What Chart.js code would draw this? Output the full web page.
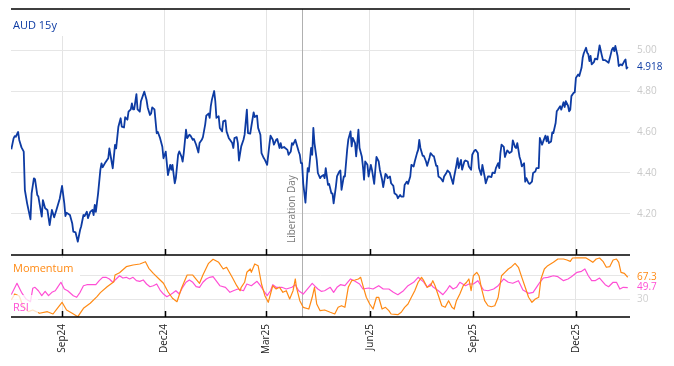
<!DOCTYPE html>
<html>
<head>
<meta charset="utf-8">
<script src="https://cdn.jsdelivr.net/npm/chart.js@4.4.1/dist/chart.umd.min.js"></script>
<style>
  html, body { margin: 0; padding: 0; background: #fff; }
  #chart { display: block; }
</style>
</head>
<body>
<canvas id="chart" width="674" height="366"></canvas>
<script>
// x values are days counted from 1 Jul 2024
const audDays = [
  17,19,20,21,23,24,26,28,29,31, 34,35,37,38,40,41,44,45,47,49,
  51,53,55,57,60,62,64,65,66,69, 71,72,74,76,78,79,81,82,84,85,
  87,89,90,91,92,94,96,97,98,100, 103,104,106,107,109,110,112,114,115,117,
  118,120,121,123,124,125,126,128,129,131, 132,135,137,138,140,141,142,144,146,147,
  149,151,152,154,156,158,159,160,162,163, 165,166,168,169,170,172,173,175,176,178,
  179,181,183,184,186,187,189,190,192,193, 194,195,197,198,199,201,202,204,205,207,
  208,210,211,213,214,215,217,218,219,221, 223,224,226,227,229,230,232,233,235,236,
  238,239,241,242,244,246,247,249,250,252, 253,255,256,257,259,260,262,263,265,266,
  267,269,270,272,273,274,275,276,278,280, 281,283,284,285,286,288,289,291,292,294,
  295,296,298,299,301,302,303,305,306,308, 309,310,312,313,315,316,318,319,320,322,
  323,325,326,328,329,330,331,333,334,336, 337,339,340,341,343,344,346,347,349,350,
  351,353,354,356,357,359,360,362,363,365, 366,368,369,371,372,374,375,377,378,379,
  380,382,383,385,386,388,389,391,392,394, 395,396,398,400,401,403,404,406,407,409,
  410,412,413,414,416,417,419,420,422,423, 425,426,428,429,431,432,434,435,437,438,
  440,441,443,444,446,447,449,450,451,452, 454,455,457,458,459,461,462,464,465,466,
  468,469,470,472,473,474,476,477,479,480, 482,483,485,486,488,489,491,492,493,494,
  496,497,498,500,501,502,504,505,507,508, 509,511,512,513,514,516,517,518,520,521,
  523,524,525,527,528,529,530,531,532,534, 535,537,538,539,541,542,544,545,547,548,
  550,551,552,553,555,556,558,559,561,562, 563,564
];
const aud = [
  4.516,4.569,4.580,4.577,4.600,4.561,4.525,4.504,4.317,4.252, 4.174,4.301,4.374,4.370,4.293,4.285,4.187,4.268,4.228,4.220,
  4.146,4.220,4.184,4.220,4.276,4.337,4.252,4.190,4.206,4.195, 4.155,4.114,4.110,4.065,4.122,4.140,4.195,4.190,4.211,4.180,
  4.210,4.220,4.195,4.244,4.210,4.301,4.415,4.447,4.428,4.447, 4.472,4.520,4.455,4.423,4.537,4.520,4.626,4.667,4.626,4.622,
  4.672,4.660,4.699,4.710,4.740,4.710,4.710,4.785,4.710,4.699, 4.750,4.797,4.756,4.720,4.683,4.690,4.720,4.710,4.594,4.600,
  4.570,4.528,4.472,4.504,4.390,4.440,4.416,4.440,4.350,4.375, 4.489,4.505,4.480,4.456,4.497,4.611,4.570,4.587,4.582,4.562,
  4.566,4.538,4.500,4.546,4.562,4.575,4.636,4.680,4.690,4.669, 4.726,4.758,4.800,4.750,4.669,4.677,4.620,4.603,4.652,4.657,
  4.603,4.570,4.562,4.546,4.522,4.570,4.575,4.546,4.461,4.530, 4.562,4.587,4.709,4.595,4.592,4.628,4.696,4.673,4.680,4.620,
  4.587,4.497,4.473,4.464,4.440,4.538,4.582,4.562,4.538,4.562, 4.566,4.522,4.546,4.522,4.527,4.522,4.513,4.489,4.505,4.546,
  4.538,4.562,4.543,4.505,4.489,4.448,4.448,4.350,4.255,4.424, 4.407,4.522,4.489,4.620,4.546,4.464,4.400,4.375,4.383,4.390,
  4.375,4.424,4.342,4.347,4.301,4.301,4.252,4.334,4.383,4.407, 4.412,4.318,4.383,4.383,4.513,4.562,4.603,4.530,4.571,4.546,
  4.481,4.611,4.522,4.481,4.432,4.367,4.456,4.440,4.383,4.440, 4.416,4.347,4.416,4.478,4.456,4.416,4.367,4.331,4.396,4.391,
  4.375,4.383,4.350,4.337,4.301,4.293,4.277,4.293,4.285,4.285, 4.342,4.358,4.347,4.383,4.440,4.432,4.456,4.497,4.513,4.562,
  4.522,4.484,4.484,4.456,4.435,4.473,4.497,4.484,4.481,4.435, 4.435,4.383,4.375,4.358,4.383,4.400,4.412,4.402,4.383,4.347,
  4.383,4.440,4.473,4.424,4.464,4.416,4.456,4.461,4.456,4.432, 4.416,4.489,4.510,4.513,4.497,4.424,4.391,4.440,4.383,4.350,
  4.383,4.383,4.380,4.402,4.400,4.424,4.448,4.424,4.497,4.538, 4.527,4.478,4.510,4.505,4.497,4.505,4.559,4.527,4.522,4.546,
  4.478,4.461,4.432,4.448,4.358,4.375,4.350,4.347,4.358,4.400, 4.407,4.424,4.424,4.571,4.538,4.554,4.582,4.554,4.579,4.546,
  4.554,4.598,4.595,4.644,4.701,4.709,4.726,4.709,4.745,4.722, 4.750,4.728,4.701,4.709,4.775,4.791,4.794,4.864,4.881,4.873,
  4.913,4.962,4.984,5.011,4.987,4.979,4.946,4.971,4.930,4.941, 4.958,4.954,4.987,5.023,4.974,4.951,4.951,4.946,4.938,4.958,
  5.003,5.011,4.995,5.020,4.971,4.922,4.930,4.925,4.946,4.954, 4.909,4.918
];

const momDays = [
  17,20,24,27,32,36,42,49,54,58, 62,66,71,76,81,87,93,96,102,108,
  109,113,119,125,131,136,139,143,149,152, 156,160,164,168,173,178,184,187,192,196,
  201,205,208,213,217,220,221,224,226,229, 230,233,236,239,242,245,247,249,252,255,
  258,261,264,267,269,270,273,276,281,284, 286,288,291,295,300,304,307,310,313,316,
  319,322,325,327,329,332,335,338,341,343, 346,349,352,354,360,363,366,369,372,375,
  378,381,383,386,389,391,393,396,399,402, 405,408,410,412,415,418,421,423,425,427,
  430,432,434,437,440,443,446,449,452,455, 458,461,464,467,470,473,476,479,482,485,
  487,490,493,498,502,507,510,513,515,519, 523,527,530,533,536,539,542,545,548,551,
  554,556,558,561,564
];
const momentum = [
  28.8,39.0,35.6,20.3,9.0,11.9,6.3,9.0,5.1,15.2, 24.9,11.9,6.3,0.5,14.7,23.2,34.4,41.2,51.3,59.8,
  71.1,75.0,85.2,88.1,89.8,93.6,82.5,74.0,62.7,57.1, 42.8,31.7,25.9,48.6,71.1,71.1,57.1,71.1,90.9,97.7,
  92.6,81.3,84.2,67.2,53.0,44.5,50.3,58.8,75.7,81.3, 75.7,89.8,86.9,55.9,36.1,24.9,38.9,53.0,47.4,50.3,
  41.8,44.5,30.5,44.5,64.4,50.3,27.6,16.4,13.5,33.4, 50.3,22.0,10.7,11.9,8.0,5.1,16.4,19.1,16.4,50.3,
  61.5,62.7,64.4,67.2,53.0,33.4,22.0,13.5,33.4,33.4, 13.5,16.4,10.7,5.1,3.9,8.0,16.4,22.0,33.4,44.5,
  58.8,67.2,61.5,50.3,53.0,61.5,53.0,36.1,19.1,16.4, 27.6,16.4,13.5,27.6,38.9,53.0,58.8,64.4,44.5,69.9,
  75.7,69.9,50.3,27.6,19.1,17.4,19.1,33.4,69.9,75.7, 81.3,85.2,90.9,84.2,67.2,50.3,33.4,24.9,30.5,33.4,
  64.4,81.3,86.9,92.6,98.2,98.2,96.5,94.3,99.9,100, 100,100,96.5,92.6,98.2,99.9,94.3,84.2,85.2,96.5,
  98.2,92.6,75.7,74.0,67.3
];

const rsiDays = [
  17,22,26,30,34,36,38,41,44,47, 50,53,56,58,61,64,67,72,75,78,
  81,84,88,92,95,98,101,104,107,110, 113,116,119,122,125,128,131,134,137,140,
  143,146,149,152,155,158,160,163,166,169, 172,175,178,181,184,187,190,193,196,202,
  207,211,214,218,223,226,230,235,238,241, 244,247,249,252,257,261,266,269,272,276,
  281,284,286,289,292,295,300,303,306,309, 313,318,322,326,329,334,338,343,347,352,
  356,360,365,369,374,378,383,386,389,391, 396,400,403,406,409,412,415,420,423,427,
  431,436,440,445,449,454,458,462,467,471, 476,480,483,486,489,493,498,502,507,511,
  514,519,523,526,529,532,535,539,544,547, 551,554,557,560,564
];
const rsi = [
  38.0,57.1,41.8,30.5,25.9,48.6,50.3,44.5,36.1,43.5, 36.1,41.8,44.5,50.3,58.8,47.4,44.5,36.1,33.4,41.8,
  53.0,54.7,54.7,54.7,61.5,67.2,67.2,64.4,58.8,64.4, 69.9,66.0,67.2,64.4,67.2,61.5,60.4,62.7,55.9,51.3,
  53.0,55.9,45.7,38.9,34.4,37.8,40.1,44.5,38.9,50.3, 58.8,62.7,58.8,51.3,50.3,58.8,64.4,67.2,68.3,53.0,
  50.3,41.8,44.5,47.4,44.5,55.9,53.0,60.4,53.0,44.5, 36.1,44.5,54.7,50.3,50.3,47.4,50.3,54.7,44.5,38.9,
  50.3,57.1,53.0,47.4,43.5,44.5,50.3,41.8,50.3,54.7, 53.0,64.4,60.4,55.9,47.4,49.1,47.4,53.0,47.4,47.4,
  41.8,37.8,44.5,53.0,58.8,67.2,59.0,50.3,55.9,51.3, 44.5,37.8,44.5,53.0,47.4,50.3,58.8,53.0,55.9,55.9,
  61.5,45.7,44.5,47.4,53.0,64.4,58.8,57.1,61.5,45.7, 40.1,41.8,50.3,58.8,66.0,67.2,69.9,68.3,61.5,64.4,
  68.3,75.7,77.4,81.3,69.9,61.5,61.5,66.0,54.7,51.3, 58.8,58.8,47.4,50.3,49.7
];

const tickDays = [62, 153, 243, 335, 427, 518];
const tickLabels = ['Sep24', 'Dec24', 'Mar25', 'Jun25', 'Sep25', 'Dec25'];
const audTicks = [4.2, 4.4, 4.6, 4.8, 5.0];
const oscTicks = [30, 70];
const eventDay = 275;
const eventLabel = 'Liberation Day';

const BLUE = '#0d3ba3';
const ORANGE = '#ff8a14';
const PINK = '#ff4fd5';
const FONT = '"Open Sans", sans-serif';

Chart.defaults.font.family = FONT;

function pts(days, vals) {
  return days.map((d, i) => ({ x: d, y: vals[i] }));
}
function last(arr) { return arr[arr.length - 1]; }

// drop the extra label padding chart.js adds so the plot area sits where we want it
function noPad(s) {
  s.paddingTop = 0;
  s.paddingBottom = 0;
  s.paddingLeft = 0;
  s.paddingRight = 0;
}

const decor = {
  id: 'decor',
  beforeDatasetsDraw(chart) {
    const { ctx, chartArea: a, scales: { x, y, y2 } } = chart;
    ctx.save();
    // white boxes behind the panel titles
    ctx.fillStyle = '#fff';
    ctx.fillRect(a.left, a.top + 1, 56, 26);
    ctx.fillRect(a.left, y2.top + 3, 69, 22);

    // event marker
    const ex = Math.round(x.getPixelForValue(eventDay)) + 0.5;
    ctx.strokeStyle = '#b0b0b0';
    ctx.lineWidth = 1;
    ctx.beginPath();
    ctx.moveTo(ex, a.top);
    ctx.lineTo(ex, a.bottom);
    ctx.stroke();
    ctx.translate(ex - 8, y.bottom - 12);
    ctx.rotate(-Math.PI / 2);
    ctx.fillStyle = '#7a7a7a';
    ctx.font = '10px ' + FONT;
    ctx.textAlign = 'left';
    ctx.textBaseline = 'alphabetic';
    ctx.fillText(eventLabel, 0, 0);
    ctx.restore();
  },
  afterDatasetsDraw(chart) {
    const { ctx, chartArea: a, scales: { x, y, y2 } } = chart;
    ctx.save();
    // faded box under RSI title
    ctx.fillStyle = 'rgba(255,255,255,0.75)';
    ctx.fillRect(a.left, y2.top + 40, 27, y2.bottom - y2.top - 41);

    // black rules
    ctx.strokeStyle = '#000';
    ctx.lineWidth = 1.5;
    ctx.beginPath();
    [a.top, y2.top, a.bottom].forEach(v => {
      ctx.moveTo(a.left, v);
      ctx.lineTo(a.right, v);
    });
    // inward tick marks
    tickDays.forEach(d => {
      const px = Math.round(x.getPixelForValue(d)) + 0.5;
      ctx.moveTo(px, y.bottom);
      ctx.lineTo(px, y.bottom - 6);
      ctx.moveTo(px, a.bottom);
      ctx.lineTo(px, a.bottom - 6);
    });
    ctx.stroke();

    // panel titles
    ctx.font = '11px ' + FONT;
    ctx.textAlign = 'left';
    ctx.textBaseline = 'alphabetic';
    ctx.fillStyle = BLUE;
    ctx.fillText('AUD 15y', a.left + 2, a.top + 20);
    ctx.fillStyle = ORANGE;
    ctx.fillText('Momentum', a.left + 2, y2.top + 17);
    ctx.fillStyle = PINK;
    ctx.fillText('RSI', a.left + 2, y2.top + 56);

    // last values on the right
    ctx.font = '10px ' + FONT;
    ctx.textBaseline = 'middle';
    const rx = a.right + 7;
    ctx.fillStyle = BLUE;
    ctx.fillText(last(aud).toFixed(3), rx, y.getPixelForValue(last(aud)));
    ctx.fillStyle = ORANGE;
    ctx.fillText(last(momentum).toFixed(1), rx, y2.getPixelForValue(last(momentum)));
    ctx.fillStyle = PINK;
    ctx.fillText(last(rsi).toFixed(1), rx, y2.getPixelForValue(last(rsi)));
    ctx.restore();
  }
};

new Chart(document.getElementById('chart'), {
  type: 'line',
  data: {
    datasets: [
      { data: pts(audDays, aud), yAxisID: 'y', borderColor: BLUE, borderWidth: 1.8 },
      { data: pts(momDays, momentum), yAxisID: 'y2', borderColor: ORANGE, borderWidth: 1.2 },
      { data: pts(rsiDays, rsi), yAxisID: 'y2', borderColor: PINK, borderWidth: 1.2 }
    ]
  },
  options: {
    responsive: false,
    animation: false,
    events: [],
    devicePixelRatio: 1,
    layout: { padding: { left: 11, top: 9, right: 0, bottom: 0 } },
    elements: { point: { radius: 0 }, line: { tension: 0, borderJoinStyle: 'round' } },
    plugins: { legend: { display: false }, tooltip: { enabled: false } },
    scales: {
      x: {
        type: 'linear',
        min: 16.7,
        max: 566,
        afterBuildTicks: s => { s.ticks = tickDays.map(v => ({ value: v })); },
        afterFit: s => { s.height = 49; noPad(s); },
        border: { display: false },
        grid: { color: '#e4e4e4', drawTicks: false },
        ticks: {
          autoSkip: false,
          minRotation: 90,
          maxRotation: 90,
          padding: 7,
          color: '#222',
          font: { size: 10 },
          callback: (v, i) => tickLabels[i]
        }
      },
      y: {
        position: 'right',
        stack: 'panels',
        stackWeight: 246,
        min: 4.0,
        max: 5.2,
        afterBuildTicks: s => { s.ticks = audTicks.map(v => ({ value: v })); },
        afterFit: s => { s.width = 44; noPad(s); },
        border: { display: false },
        grid: { color: '#e6e6e6', drawTicks: false },
        ticks: { padding: 7, color: '#c9c9c9', font: { size: 10 }, callback: v => v.toFixed(2) }
      },
      y2: {
        position: 'right',
        stack: 'panels',
        stackWeight: 62,
        min: 0,
        max: 105,
        afterBuildTicks: s => { s.ticks = oscTicks.map(v => ({ value: v })); },
        afterFit: s => { s.width = 44; noPad(s); },
        border: { display: false },
        grid: { color: '#e6e6e6', drawTicks: false },
        // 70 is left blank, the momentum value sits there
        ticks: { padding: 7, color: '#d0d0d0', font: { size: 10 }, callback: v => (v === 70 ? '' : String(v)) }
      }
    }
  },
  plugins: [decor]
});
</script>
</body>
</html>
